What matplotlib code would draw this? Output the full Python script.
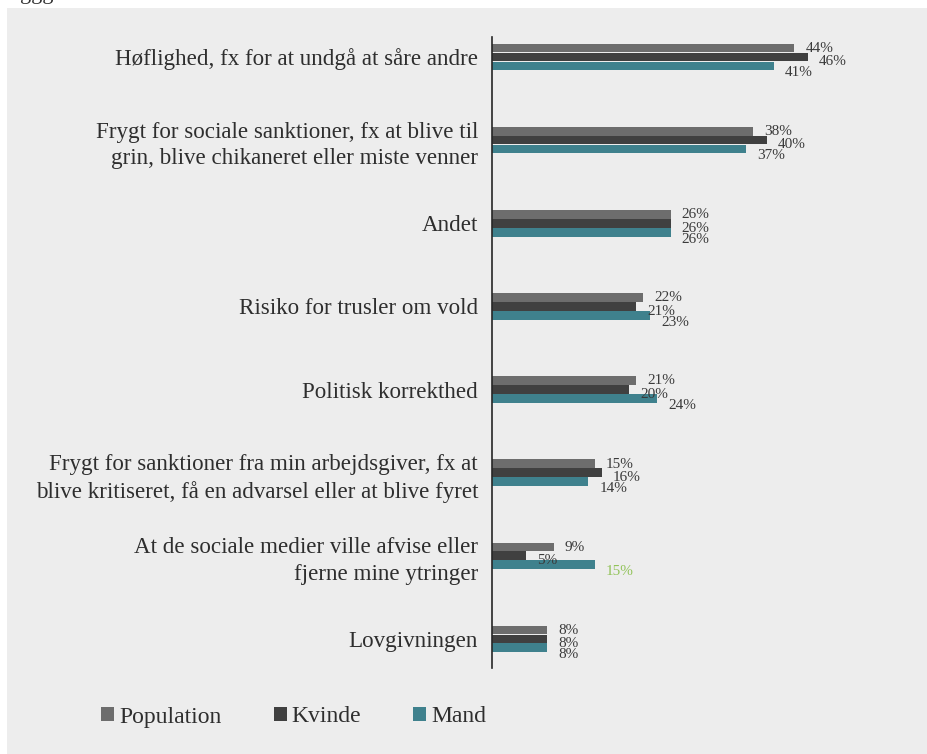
import numpy as np
import matplotlib.pyplot as plt
from matplotlib.patches import Rectangle, Patch

plt.rcParams['font.family'] = ['Liberation Serif', 'DejaVu Serif']

categories = [
    "Høflighed, fx for at undgå at såre andre",
    "Frygt for sociale sanktioner, fx at blive til\ngrin, blive chikaneret eller miste venner",
    "Andet",
    "Risiko for trusler om vold",
    "Politisk korrekthed",
    "Frygt for sanktioner fra min arbejdsgiver, fx at\nblive kritiseret, få en advarsel eller at blive fyret",
    "At de sociale medier ville afvise eller\nfjerne mine ytringer",
    "Lovgivningen",
]
population = [44, 38, 26, 22, 21, 15, 9, 8]
kvinde = [46, 40, 26, 21, 20, 16, 5, 8]
mand = [41, 37, 26, 23, 24, 14, 15, 8]
series_names = ["Population", "Kvinde", "Mand"]

colors = ["#6d6d6d", "#404040", "#3f818d"]
text_color = "#2e2e2e"
highlight = "#92c35a"

W, H = 928, 754
fig = plt.figure(figsize=(W / 100, H / 100), dpi=100)
fig.patch.set_facecolor("white")
fig.patches.append(Rectangle((7 / W, 0), 1, 1 - 8 / H, transform=fig.transFigure,
                             facecolor="#ededed", edgecolor="none", zorder=-10))
fig.text(20 / W, 1 + 1 / H, "ggg", fontsize=16, color=text_color, va="baseline")

left, right = 492, 900
top, bottom = 36.7, 668
ax = fig.add_axes([left / W, 1 - bottom / H, (right - left) / W, (bottom - top) / H])
ax.set_facecolor("none")
ax.set_zorder(2)

y = np.arange(len(categories))
h = 0.105
off = 0.107
series = [population, kvinde, mand]
for k, (vals, c) in enumerate(zip(series, colors)):
    ax.barh(y + (k - 1) * off, vals, height=h, color=c, label=series_names[k])

# value labels, nudged like the original
dy = [-0.2, -3.5, -5]
for k, vals in enumerate(series):
    for i, v in enumerate(vals):
        col = highlight if (k == 2 and i == 6) else "#3a3a3a"
        ax.annotate(f"{v}%", (v, y[i] + (k - 1) * off), xytext=(8, dy[k]),
                    textcoords="offset points", va="center", ha="left",
                    fontsize=11, color=col)

ax.set_xlim(0, (right - left) / 6.87)
ax.set_ylim(7.35, -0.244)
ax.set_yticks(y)
ax.set_yticklabels(categories, fontsize=16.6, color=text_color, linespacing=1.35)
ax.tick_params(axis="y", length=0, pad=10)
ax.set_xticks([])
for s in ["top", "right", "bottom"]:
    ax.spines[s].set_visible(False)
ax.spines["left"].set_color("#262626")
ax.spines["left"].set_linewidth(1.2)

handles = [Patch(facecolor=c, edgecolor="none") for c in colors]
fig.legend(handles, series_names, loc="center left", bbox_to_anchor=(80 / W, 1 - 717 / H),
           ncol=3, frameon=False, fontsize=17, labelcolor=text_color,
           handlelength=0.55, handleheight=0.55, handletextpad=0.22, columnspacing=2.2)

fig.savefig("out.png", dpi=100)
